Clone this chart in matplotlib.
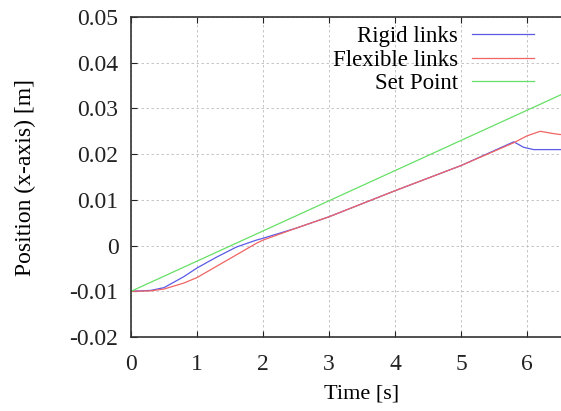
import matplotlib
matplotlib.use("Agg")
import matplotlib.pyplot as plt

plt.rcParams['font.family'] = ['Liberation Serif', 'DejaVu Serif']
plt.rcParams['axes.unicode_minus'] = False

t_rigid = [0, 0.3, 0.5, 0.8, 1.0, 1.3, 1.6, 1.9, 2.0, 2.5, 3, 4, 5, 5.8, 5.95, 6.1, 6.5, 7.0]
y_rigid = [-0.01, -0.0098, -0.0092, -0.0068, -0.0049, -0.0025, -0.0003, 0.0012, 0.0016,
           0.0038, 0.0063, 0.0120, 0.0175, 0.0227, 0.0215, 0.021, 0.021, 0.021]
t_flex = [0, 0.3, 0.5, 0.8, 1.0, 1.3, 1.6, 1.9, 2.0, 2.5, 3, 4, 5, 5.8, 6.0, 6.2, 6.4, 6.5, 7.0]
y_flex = [-0.01, -0.0099, -0.0095, -0.0082, -0.007, -0.0045, -0.002, 0.0005, 0.0012,
          0.0038, 0.0063, 0.012, 0.0175, 0.0225, 0.024, 0.025, 0.0245, 0.0243, 0.0243]
t_set = [0, 7.0]
y_set = [-0.01, 0.0362]

x_ticks = [0, 1, 2, 3, 4, 5, 6, 7]
x_ticklabels = ['0', '1', '2', '3', '4', '5', '6', '']
y_ticks = [-0.02, -0.01, 0, 0.01, 0.02, 0.03, 0.04, 0.05]
y_ticklabels = ['-0.02', '-0.01', '0', '0.01', '0.02', '0.03', '0.04', '0.05']

fig = plt.figure(figsize=(5.61, 4.11), dpi=100)
ax = fig.add_axes([0.2335, 0.18, 0.8235, 0.7786])

ax.plot(t_rigid, y_rigid, color='#5a5ae6', lw=0.9, label='Rigid links')
ax.plot(t_flex, y_flex, color='#f06464', lw=0.9, label='Flexible links')
ax.plot(t_set, y_set, color='#66e066', lw=0.9, label='Set Point')

ax.set_xlim(0, 7)
ax.set_ylim(-0.02, 0.05)
ax.set_xticks(x_ticks)
ax.set_xticklabels(x_ticklabels, fontsize=17)
ax.set_yticks(y_ticks)
ax.set_yticklabels(y_ticklabels, fontsize=17)
ax.tick_params(direction='in', length=4, top=True, right=True, colors='#222222')
ax.tick_params(axis='y', pad=9)
ax.tick_params(axis='x', pad=12)
ax.grid(True, linestyle=(0, (3, 3)), color='#bbbbbb', lw=0.6)
for s in ax.spines.values():
    s.set_linewidth(1.2)
    s.set_color('#333333')

ax.set_xlabel('Time [s]', fontsize=16, labelpad=7)
ax.set_ylabel('Position (x-axis) [m]', fontsize=17, labelpad=24)

leg = fig.legend(loc='upper right', bbox_to_anchor=(0.98, 0.975), frameon=False,
                 markerfirst=False, fontsize=16.5, handlelength=2.7, labelspacing=0.1,
                 borderpad=0.2, handletextpad=0.6)
for txt in leg.get_texts():
    txt.set_ha('right')
leg._legend_box.align = 'right'

fig.savefig('out.png', dpi=100)
